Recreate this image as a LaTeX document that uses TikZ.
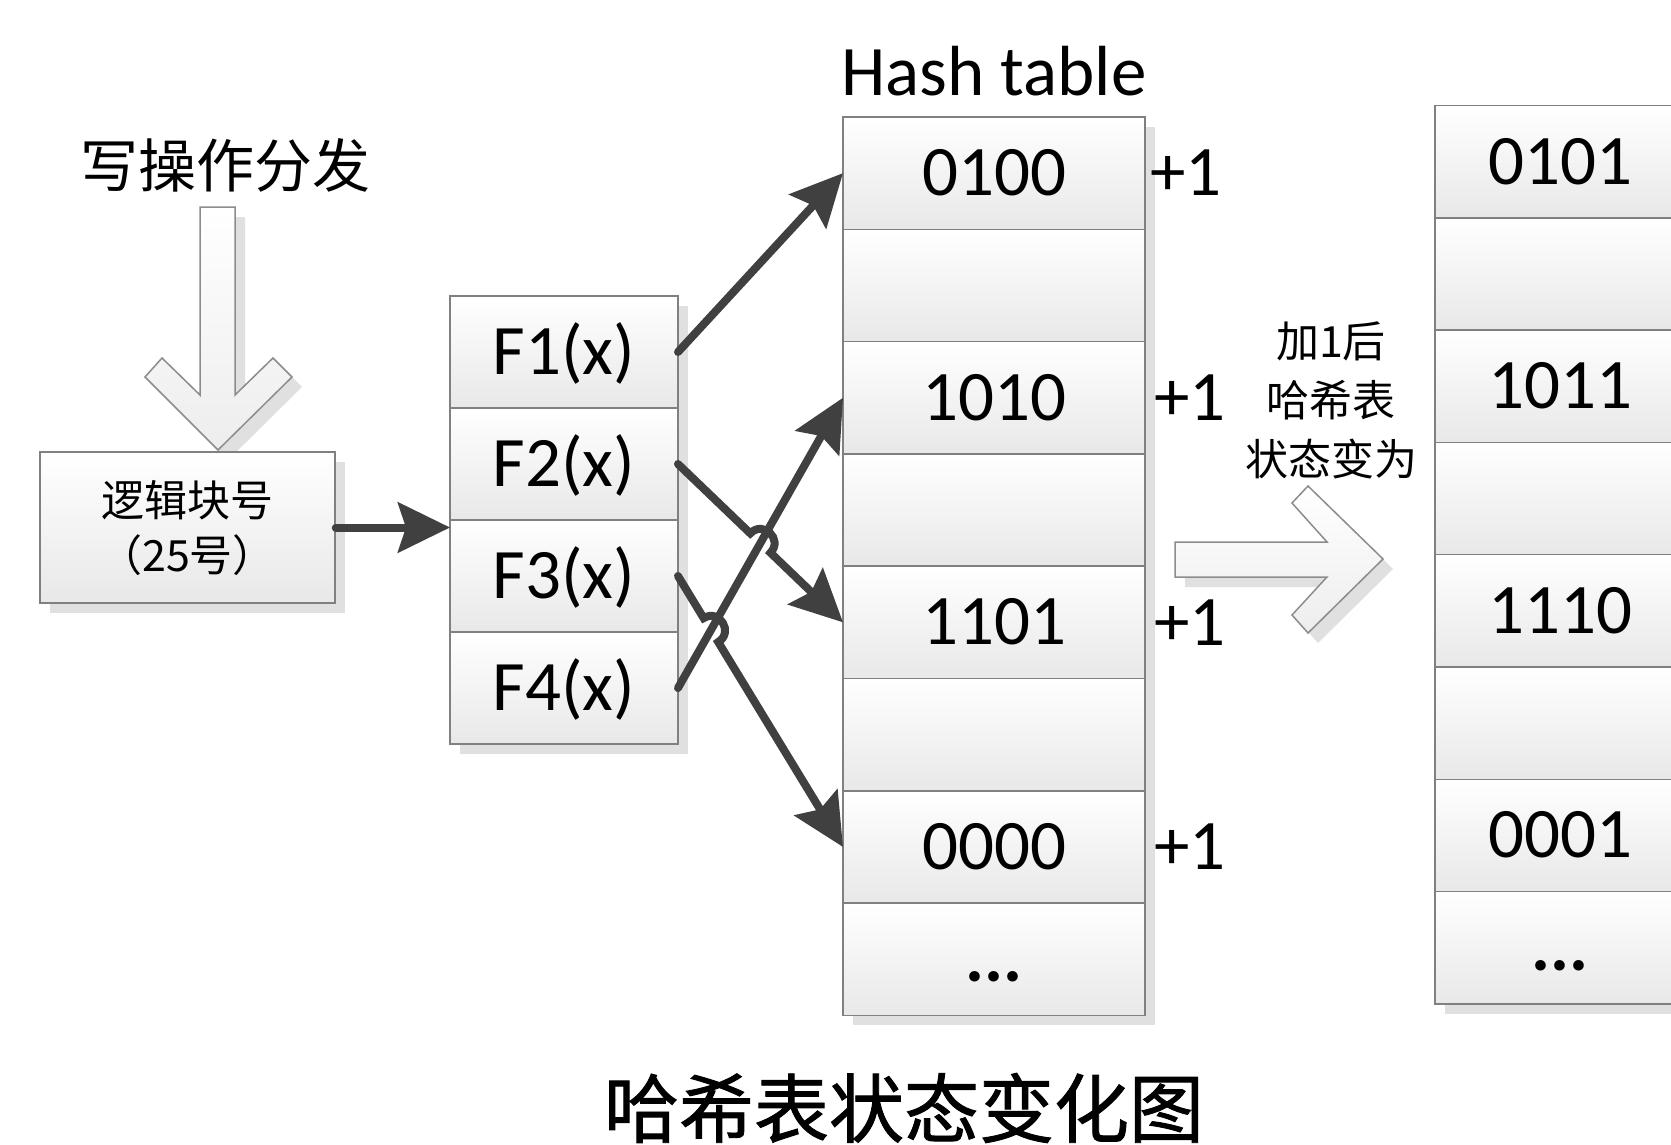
\documentclass[tikz,border=0pt]{standalone}
\usepackage{fontspec}
\setmainfont{Carlito}
\newfontfamily\cjk{Noto Sans CJK SC}
\newfontfamily\cjkheavy{Noto Sans CJK SC}[FakeBold=1.2]
\usetikzlibrary{arrows.meta,shadows,calc}
\begin{document}
\begin{tikzpicture}[x=0.5pt,y=-0.5pt,
  shd/.style={drop shadow={shadow xshift=5pt,shadow yshift=-5pt,fill=black!12,opacity=1}},
  cellbase/.style={rectangle,draw=black!50,line width=0.75pt,top color=white,bottom color=black!9,
    inner sep=0pt,outer sep=0pt,shd,font=\fontsize{35.5pt}{40pt}\selectfont,text height=22.4pt,text depth=0pt},
  fcell/.style={cellbase,minimum width=114pt,minimum height=56pt},
  hcell/.style={cellbase,minimum width=151pt,minimum height=56.15pt},
  rcell/.style={cellbase,minimum width=125pt,minimum height=56.15pt},
  conn/.style={draw=black!75,line width=4pt,line cap=round,-{Stealth[length=26pt,width=25pt,inset=4pt]}},
  barrow/.style={draw=black!45,line width=0.75pt,top color=white,bottom color=black!7,shd},
  plus/.style={font=\fontsize{35.5pt}{40pt}\selectfont,anchor=west,inner sep=0pt},
  notetext/.style={font=\cjk\fontsize{21.5pt}{29.5pt}\selectfont,align=center,inner sep=0pt},
]
\clip (0,0) rectangle (1671,1145);
\fill[white] (0,0) rectangle (1671,1145);

% top-left label and block arrow
\node[font=\cjk\fontsize{29pt}{34pt}\selectfont,inner sep=0pt] (wtitle) at (225,165) {写操作分发};
\path[barrow] (200,207) -- (200,395) -- (162,358) -- (145,377) -- (218,450) -- (292,377)
  -- (273,358) -- (235,395) -- (235,207) -- cycle;

% logical block box
\node[rectangle,draw=black!50,line width=0.75pt,top color=white,bottom color=black!9,shd,
  minimum width=147.5pt,minimum height=75.5pt,align=center,
  font=\cjk\fontsize{21.5pt}{27.5pt}\selectfont] (logic) at (187.5,527.5) {逻辑块号\\（25号）};

% hash functions
\node[fcell] (f1) at (564,352) {F1(x)};
\node[fcell] (f2) at (564,464) {F2(x)};
\node[fcell] (f3) at (564,576) {F3(x)};
\node[fcell] (f4) at (564,688) {F4(x)};

% hash table
\node[font=\fontsize{35.5pt}{40pt}\selectfont,anchor=base,inner sep=0pt] (htitle) at (994,96) {Hash table};
\node[hcell] (h0) at (994,173.15) {0100};
\node[hcell] (h1) at (994,285.45) {};
\node[hcell] (h2) at (994,397.75) {1010};
\node[hcell] (h3) at (994,510.05) {};
\node[hcell] (h4) at (994,622.35) {1101};
\node[hcell] (h5) at (994,734.65) {};
\node[hcell] (h6) at (994,846.95) {0000};
\node[hcell] (h7) at (994,959.25) {\textbf{...}};

\node[plus] (p0) at ($(h0.east)+(5,0)$) {+1};
\node[plus] (p2) at ($(h2.east)+(9,0)$) {+1};
\node[plus] (p4) at ($(h4.east)+(9,0)$) {+1};
\node[plus] (p6) at ($(h6.east)+(9,0)$) {+1};

% transition
\node[notetext] (note) at (1331,400) {加1后\\哈希表\\状态变为};
\path[barrow] (1175,542) -- (1327,542) -- (1292,503) -- (1308,486) -- (1383,559) -- (1308,633)
  -- (1292,615) -- (1327,577) -- (1175,577) -- cycle;

% resulting table
\node[rcell] (r0) at (1560,161.65) {0101};
\node[rcell] (r1) at (1560,273.95) {};
\node[rcell] (r2) at (1560,386.25) {1011};
\node[rcell] (r3) at (1560,498.55) {};
\node[rcell] (r4) at (1560,610.85) {1110};
\node[rcell] (r5) at (1560,723.15) {};
\node[rcell] (r6) at (1560,835.45) {0001};
\node[rcell] (r7) at (1560,947.75) {\textbf{...}};

% bottom caption
\node[font=\cjkheavy\fontsize{37.5pt}{42pt}\selectfont,inner sep=0pt] (caption) at (904,1108) {哈希表状态变化图};

% connectors
\draw[conn] (logic.east) -- (logic.east -| f3.west);
\draw[conn] (f1.east) -- (h0.west);
\draw[conn] (f4.east) -- (h2.west);
\path ($(f2.east)!0.4381!(h4.west)$) coordinate (a2) ($(f2.east)!0.5605!(h4.west)$) coordinate (b2);
\draw[conn] (f2.east) -- (a2) .. controls ($(a2)!9.3pt!90:(b2)$) and ($(b2)!9.3pt!-90:(a2)$) .. (b2) -- (h4.west);
\path ($(f3.east)!0.1555!(h6.west)$) coordinate (a3) ($(f3.east)!0.2437!(h6.west)$) coordinate (b3);
\draw[conn] (f3.east) -- (a3) .. controls ($(a3)!9.3pt!90:(b3)$) and ($(b3)!9.3pt!-90:(a3)$) .. (b3) -- (h6.west);
\end{tikzpicture}
\end{document}
